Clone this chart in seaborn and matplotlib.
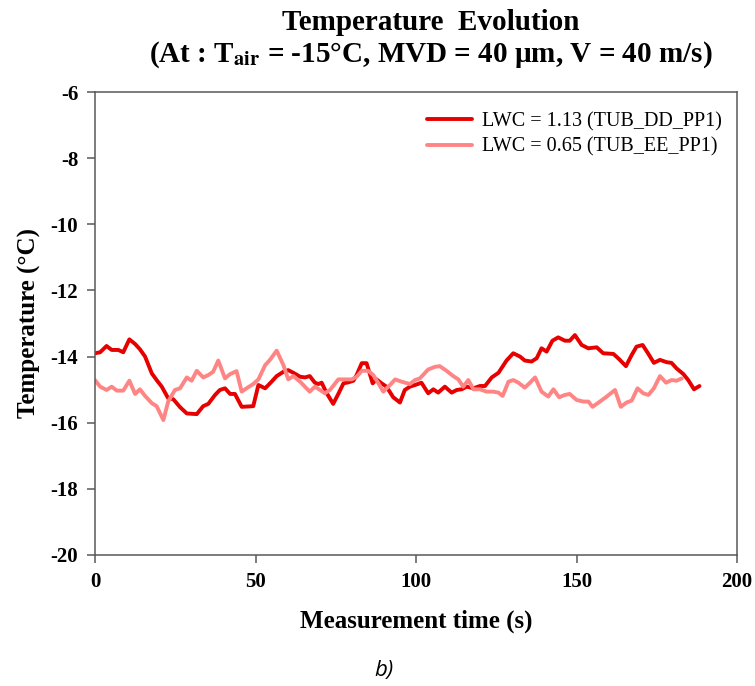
import matplotlib
matplotlib.use("Agg")
import matplotlib.pyplot as plt
import seaborn as sns
import pandas as pd

# Measured temperature histories (time in s, temperature in °C)
t_dd = [0, 1.6, 3.6, 5.2, 7.3, 8.8, 10.7, 12.5, 14.0, 15.6, 17.7, 19.2, 20.8, 22.8,
        24.4, 26.5, 28.6, 31.7, 33.7, 35.3, 37.4, 38.9, 40.5, 42.1, 43.6, 45.7, 49.3,
        50.9, 53.0, 55.0, 56.6, 58.7, 60.2, 61.8, 63.9, 65.4, 66.9, 68.5, 69.6, 70.6,
        72.2, 74.2, 75.8, 77.4, 78.9, 80.5, 81.5, 83.1, 84.6, 86.5, 87.7, 89.3, 90.8,
        92.9, 95.0, 96.5, 98.1, 99.7, 101.7, 103.8, 105.4, 106.9, 109.0, 111.1, 112.7,
        114.2, 115.8, 117.9, 119.9, 121.5, 123.6, 125.7, 128.2, 130.3, 132.4, 133.9,
        136.0, 137.6, 139.1, 140.7, 142.5, 144.3, 146.4, 147.9, 149.5, 151.6, 153.7,
        156.3, 158.3, 161.5, 163.3, 165.4, 167.2, 168.7, 170.6, 172.4, 174.1, 176.0,
        178.1, 179.6, 181.2, 183.3, 184.8, 186.6, 188.3]
temp_dd = [-13.90, -13.87, -13.68, -13.80, -13.80, -13.87, -13.48, -13.62, -13.78, -14.00,
           -14.51, -14.71, -14.91, -15.26, -15.29, -15.53, -15.72, -15.74, -15.50, -15.43,
           -15.16, -15.01, -14.96, -15.13, -15.13, -15.52, -15.50, -14.86, -14.96, -14.76,
           -14.59, -14.46, -14.41, -14.49, -14.61, -14.63, -14.59, -14.79, -14.83, -14.79,
           -15.11, -15.43, -15.13, -14.81, -14.78, -14.73, -14.56, -14.20, -14.20, -14.81,
           -14.69, -14.81, -14.91, -15.23, -15.39, -15.01, -14.91, -14.86, -14.79, -15.11,
           -14.99, -15.09, -14.91, -15.09, -15.01, -14.99, -14.91, -14.96, -14.89, -14.89,
           -14.63, -14.49, -14.12, -13.90, -14.00, -14.12, -14.15, -14.05, -13.75, -13.85,
           -13.52, -13.42, -13.52, -13.52, -13.35, -13.65, -13.75, -13.72, -13.90, -13.92,
           -14.08, -14.29, -13.95, -13.70, -13.65, -13.92, -14.19, -14.10, -14.17, -14.19,
           -14.36, -14.53, -14.71, -14.99, -14.89]

t_ee = [0, 1.6, 3.6, 5.2, 6.8, 8.8, 10.7, 12.5, 14.0, 15.6, 17.7, 19.2, 21.3, 22.8,
        24.9, 26.5, 28.6, 30.1, 31.7, 33.7, 35.3, 36.8, 38.4, 40.5, 42.1, 44.1, 45.7,
        47.2, 49.3, 50.9, 53.0, 54.5, 56.6, 58.7, 60.2, 61.8, 63.9, 65.4, 66.9, 68.5,
        70.1, 71.6, 73.2, 75.8, 77.9, 80.0, 81.5, 83.1, 85.1, 86.7, 88.3, 89.8, 91.9,
        93.5, 95.5, 98.1, 99.7, 101.2, 103.8, 105.9, 107.4, 109.5, 111.6, 113.2, 114.7,
        116.3, 117.9, 119.9, 122.0, 124.1, 125.7, 127.0, 128.8, 130.3, 131.9, 133.9,
        135.5, 137.1, 139.1, 141.2, 142.8, 144.6, 146.4, 147.9, 150.0, 152.1, 153.7,
        155.0, 157.3, 159.4, 162.0, 163.8, 165.6, 167.2, 169.0, 170.8, 172.4, 174.1,
        176.0, 177.9, 179.6, 181.2, 182.8]
temp_ee = [-14.71, -14.91, -15.01, -14.91, -15.03, -15.03, -14.73, -15.13, -14.99, -15.19,
           -15.41, -15.50, -15.92, -15.36, -15.01, -14.96, -14.63, -14.73, -14.43, -14.63,
           -14.56, -14.46, -14.12, -14.66, -14.53, -14.44, -15.06, -14.96, -14.83, -14.69,
           -14.26, -14.10, -13.82, -14.26, -14.69, -14.59, -14.76, -14.91, -15.06, -14.91,
           -15.01, -15.11, -15.01, -14.69, -14.69, -14.69, -14.61, -14.43, -14.43, -14.56,
           -14.81, -15.06, -14.86, -14.69, -14.76, -14.83, -14.71, -14.66, -14.39, -14.31,
           -14.29, -14.43, -14.59, -14.69, -14.91, -14.71, -14.99, -14.99, -15.06, -15.06,
           -15.09, -15.19, -14.76, -14.71, -14.79, -14.94, -14.79, -14.63, -15.06, -15.21,
           -14.99, -15.23, -15.16, -15.13, -15.31, -15.36, -15.36, -15.52, -15.36, -15.21,
           -15.01, -15.52, -15.39, -15.33, -14.96, -15.11, -15.16, -14.96, -14.59, -14.79,
           -14.71, -14.73, -14.66]

series_labels = ["LWC = 1.13 (TUB_DD_PP1)", "LWC = 0.65 (TUB_EE_PP1)"]
series_colors = ["#E60000", "#FF8585"]
x_ticks = [0, 50, 100, 150, 200]
y_ticks = [-20, -18, -16, -14, -12, -10, -8, -6]

df = pd.concat([
    pd.DataFrame({"time": t_dd, "temp": temp_dd, "run": series_labels[0]}),
    pd.DataFrame({"time": t_ee, "temp": temp_ee, "run": series_labels[1]}),
], ignore_index=True)

sns.set_style("white")
plt.rcParams["font.family"] = ["Liberation Serif", "DejaVu Serif"]
plt.rcParams["mathtext.fontset"] = "stix"
plt.rcParams["text.color"] = "black"
plt.rcParams["axes.labelcolor"] = "black"

fig = plt.figure(figsize=(7.55, 6.86), dpi=100)
ax = fig.add_axes([95 / 755, 1 - 555 / 686, 642 / 755, 463 / 686])

sns.lineplot(data=df, x="time", y="temp", hue="run", hue_order=series_labels,
             palette=series_colors, estimator=None, sort=False, linewidth=2.8, ax=ax)

ax.set_xlim(0, 200)
ax.set_ylim(-20, -6)
ax.set_xticks(x_ticks)
ax.set_yticks(y_ticks)
ax.set_xticklabels([str(v) for v in x_ticks], fontsize=15, fontweight="bold")
ax.set_yticklabels([str(v) for v in y_ticks], fontsize=15, fontweight="bold")
ax.tick_params(axis="both", direction="out", length=6, width=1.1, color="#595959",
               labelcolor="black", bottom=True, left=True, pad=6)

for sp in ax.spines.values():
    sp.set_visible(True)
    sp.set_color("#595959")
    sp.set_linewidth(1.1)

ax.set_xlabel("Measurement time (s)", fontsize=18, fontweight="bold", labelpad=13)
ax.set_ylabel("Temperature (°C)", fontsize=18, fontweight="bold", labelpad=7)

leg = ax.legend(loc="upper right", bbox_to_anchor=(1.0, 1.0 - 5 / 463), frameon=False,
                fontsize=14.5, handlelength=2.25, handletextpad=0.5,
                borderaxespad=0.35, labelspacing=0.3)

fig.text(431 / 755, 1 - 30 / 686, "Temperature  Evolution", ha="center", va="baseline",
         fontsize=21, fontweight="bold")
fig.text(431 / 755, 1 - 62 / 686,
         r"(At : T$_{\mathbf{air}}$ = -15°C, MVD = 40 µm, V = 40 m/s)",
         ha="center", va="baseline", fontsize=21, fontweight="bold")
fig.text(384 / 755, 1 - 676 / 686, "b)", ha="center", va="baseline", fontsize=16,
         style="italic", family=["Open Sans", "DejaVu Sans"])

fig.savefig("out.png", dpi=100)
